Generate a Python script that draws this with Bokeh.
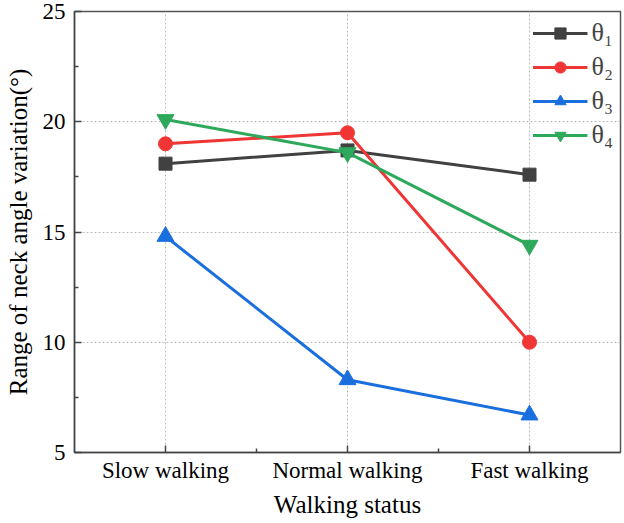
from bokeh.plotting import figure
from bokeh.models import FixedTicker, Range1d, Legend, LegendItem
from bokeh.embed import file_html
from bokeh.resources import INLINE

categories = ["Slow walking", "Normal walking", "Fast walking"]
theta1 = [18.1, 18.7, 17.6]
theta2 = [19.0, 19.5, 10.0]
theta3 = [14.8, 8.3, 6.7]
theta4 = [20.1, 18.6, 14.4]
series_names = ["θ₁", "θ₂", "θ₃", "θ₄"]
y_ticks = [5, 10, 15, 20, 25]

xs = list(range(len(categories)))

FONT = "Liberation Serif"

p = figure(width=622, height=522, output_backend="svg", toolbar_location=None,
           x_range=Range1d(-0.5, 2.5), y_range=Range1d(5, 25),
           min_border_left=74, min_border_right=2, min_border_top=11, min_border_bottom=70)
p.background_fill_color = "white"
p.border_fill_color = "white"
p.outline_line_color = "#555555"
p.outline_line_width = 1.5

p.xaxis.ticker = FixedTicker(ticks=xs, minor_ticks=[0.5, 1.5])
p.xaxis.major_label_overrides = {i: c for i, c in zip(xs, categories)}
p.yaxis.ticker = FixedTicker(ticks=y_ticks, minor_ticks=[7.5, 12.5, 17.5, 22.5])

for ax in (p.xaxis[0], p.yaxis[0]):
    ax.axis_line_color = "#444444"
    ax.axis_line_width = 1.5
    ax.major_tick_line_color = "#444444"
    ax.minor_tick_line_color = "#444444"
    ax.major_tick_line_width = 1.5
    ax.minor_tick_line_width = 1.5
    ax.major_tick_in = 7
    ax.major_tick_out = 0
    ax.minor_tick_in = 4
    ax.minor_tick_out = 0
    ax.major_label_text_font = FONT
    ax.major_label_text_font_size = "23px"
    ax.major_label_text_color = "black"
    ax.axis_label_text_font = FONT
    ax.axis_label_text_font_style = "normal"
    ax.axis_label_text_color = "black"

p.xaxis.axis_label_text_font_size = "25px"
p.yaxis.axis_label_text_font_size = "25px"
p.xaxis.major_label_standoff = 5
p.yaxis.major_label_standoff = 9
p.xaxis.axis_label = "Walking status"
p.yaxis.axis_label = "Range of neck angle variation(°)"
p.xaxis.axis_label_standoff = 5
p.yaxis.axis_label_standoff = 8

p.xgrid.grid_line_color = "#bbbbbb"
p.ygrid.grid_line_color = "#bbbbbb"
p.xgrid.grid_line_dash = "2 2"
p.ygrid.grid_line_dash = "2 2"
p.xgrid.grid_line_width = 1
p.ygrid.grid_line_width = 1

colors = ["#414141", "#F03535", "#1A6FDF", "#2EA85A"]
markers = ["square", "circle", "triangle", "inverted_triangle"]
sizes = [13, 14, 17, 17]
data = [theta1, theta2, theta3, theta4]

items = []
for name, ys, col, mk, sz in zip(series_names, data, colors, markers, sizes):
    r1 = p.line(xs, ys, line_color=col, line_width=3)
    r2 = p.scatter(xs, ys, marker=mk, size=sz, fill_color=col, line_color=col)
    items.append(LegendItem(label=name, renderers=[r1, r2]))

legend = Legend(items=items, location="top_right")
legend.border_line_color = None
legend.background_fill_alpha = 0
legend.label_text_font = FONT
legend.label_text_font_size = "26px"
legend.glyph_width = 55
legend.glyph_height = 28
legend.spacing = 4
legend.padding = 4
legend.margin = 7
legend.label_standoff = 4
p.add_layout(legend)

open("out.html", "w").write(file_html(p, INLINE))
